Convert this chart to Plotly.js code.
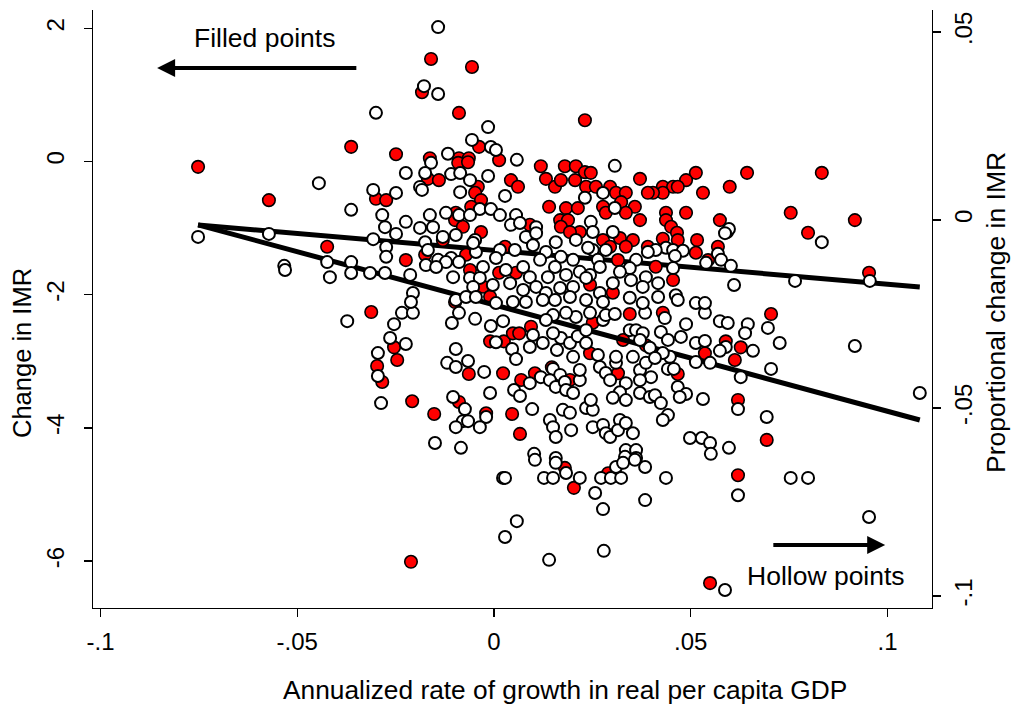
<!DOCTYPE html>
<html>
<head>
<meta charset="utf-8">
<script src="https://cdn.plot.ly/plotly-3.0.1.min.js"></script>
<style>html,body{margin:0;padding:0;background:#fff;}#chart{width:1013px;height:709px;}</style>
</head>
<body>
<div id="chart"></div>
<script>
// Filled points: change in IMR (left axis)
var filledGrowth = [-0.0752,-0.0572,-0.0424,-0.0363,-0.0312,-0.0297,-0.0284,-0.0254,-0.0246,-0.0208,
-0.0152,-0.0089,-0.0064,-0.0020,0.0023,-0.0010,0.0025,0.0048,0.0064,0.0094,
0.0046,0.0066,0.0069,0.0104,0.0147,0.0193,0.0244,0.0251,0.0345,0.0315,
0.0328,0.0386,0.0429,0.0704,0.0589,0.0627,0.0536,0.0612,0.0467,0.0620,
0.0693,0.0180,0.0203,0.0290,-0.0211,0.0620,0.0549,-0.0160,-0.0056,-0.0183,
-0.0089,0.0231,-0.0038,-0.0249,-0.0163,-0.0089,-0.0064,0.0013,0.0513,0.0643,
0.0833,0.0488,0.0429,0.0455,0.0467,0.0429,0.0404,0.0531,0.0599,0.0437,
0.0437,0.0488,0.0574,0.0592,0.0754,0.0917,0.0798,0.0450,0.0465,0.0467,
0.0429,0.0516,0.0513,0.0569,0.0544,0.0953,0.0455,0.0411,-0.0091,-0.0066,
0.0119,0.0180,0.0208,0.0231,0.0246,-0.0168,-0.0140,0.0043,0.0061,-0.0041,
-0.0048,0.0132,0.0155,0.0170,0.0206,0.0234,0.0259,0.0295,0.0310,0.0335,
0.0371,0.0391,-0.0300,-0.0274,-0.0033,-0.0058,0.0140,0.0183,0.0213,0.0277,
0.0284,0.0323,0.0358,0.0335,-0.0097,-0.0099,-0.0079,0.0091,0.0168,0.0188,
0.0371,0.0170,0.0218,0.0193,-0.0033,-0.0130,0.0277,0.0320,0.0353,0.0335,
0.0295,0.0391,-0.0224,-0.0175,-0.0071,0.0028,0.0315,-0.0061,0.0013,0.0056,
0.0244,0.0302,-0.0028,-0.0099,-0.0010];
var filledChange = [-0.08,-0.58,-1.28,0.22,-2.26,-3.07,-3.31,-2.79,-2.98,-3.60,
-3.79,-3.61,-3.19,-3.78,-3.18,-2.70,-2.70,-2.58,-2.58,-2.48,
-3.79,-4.09,-3.28,-3.18,-3.09,-3.28,-2.88,-2.42,-2.29,-3.18,
-2.68,-2.76,-2.27,-2.29,-2.70,-2.79,-2.88,-2.98,-3.19,-3.58,
-4.18,-4.60,-4.90,-4.68,-6.01,-4.71,-6.33,1.54,1.42,1.04,
0.73,0.62,0.22,0.11,0.05,0.05,0.05,0.02,-0.17,-0.17,
-0.17,-0.28,-0.38,-0.38,-0.38,-0.47,-0.47,-0.47,-0.38,-0.77,
-0.88,-0.77,-0.88,-1.06,-0.77,-0.88,-1.07,-0.98,-1.07,-1.18,
-1.16,-1.18,-1.37,-1.28,-1.48,-1.67,-1.78,-1.58,-0.02,-0.01,
-0.07,-0.07,-0.07,-0.16,-0.17,-0.26,-0.28,-0.28,-0.38,-0.38,
-0.47,-0.26,-0.38,-0.28,-0.28,-0.38,-0.38,-0.38,-0.47,-0.47,
-0.26,-0.47,-0.56,-0.58,-0.58,-0.68,-0.68,-0.70,-0.70,-0.68,
-0.77,-0.61,-0.68,-0.77,-0.77,-0.88,-0.98,-0.95,-0.88,-0.88,
-0.88,-0.98,-1.06,-1.06,-1.06,-1.18,-1.18,-1.15,-1.18,-1.28,
-1.28,-1.28,-1.48,-1.40,-1.40,-1.28,-1.48,-1.63,-1.67,-1.67,
-1.85,-1.97,-1.88,-2.11,-2.03];

// Hollow points: proportional change in IMR (right axis)
var hollowGrowth = [-0.0142,-0.0178,-0.0142,-0.0300,-0.0015,-0.0056,-0.0008,0.0005,-0.0117,0.0058,
-0.0445,-0.0363,-0.0307,-0.0752,-0.0572,-0.0307,-0.0533,-0.0531,-0.0424,-0.0363,
-0.0363,-0.0417,-0.0315,-0.0373,-0.0234,-0.0206,-0.0254,-0.0107,-0.0089,-0.0048,
-0.0008,0.0023,-0.0264,-0.0224,-0.0295,-0.0295,-0.0097,-0.0119,-0.0097,-0.0066,
-0.0025,0.0005,0.0099,0.0046,0.0056,0.0091,0.0124,0.0160,0.0170,0.0150,
0.0119,0.0051,0.0066,0.0091,0.0150,0.0168,0.0142,0.0157,0.0180,0.0218,
0.0183,0.0201,0.0218,0.0201,0.0193,0.0213,0.0234,0.0264,0.0234,0.0277,
0.0284,0.0307,0.0384,0.0208,0.0244,0.0183,0.0150,0.0132,0.0269,0.0284,
0.0295,0.0310,0.0345,0.0361,0.0378,0.0371,0.0396,0.0371,0.0335,0.0371,
0.0396,0.0320,0.0302,0.0335,-0.0287,-0.0104,-0.0074,-0.0010,-0.0020,-0.0079,
-0.0066,-0.0097,-0.0036,0.0097,-0.0150,-0.0084,0.0102,0.0157,0.0142,0.0150,
0.0157,0.0196,0.0175,0.0193,0.0234,0.0251,0.0246,0.0251,0.0277,0.0284,
0.0295,0.0320,0.0315,0.0335,0.0353,0.0335,0.0361,0.0361,0.0333,0.0386,
0.0399,0.0371,0.0353,0.0310,0.0434,0.0536,0.0488,0.0574,0.0594,0.0645,
0.0638,0.0696,0.0424,0.0475,0.0442,0.0513,0.0536,0.0589,0.0658,0.0574,
0.0726,0.0513,0.0549,0.0447,0.0429,0.0409,0.0442,0.0457,0.0627,0.0704,
0.0917,0.1082,0.0467,0.0488,0.0472,0.0409,0.0424,0.0531,0.0620,0.0442,
0.0429,0.0693,0.0498,0.0528,0.0549,0.0597,0.0551,0.0104,0.0157,0.0183,
0.0023,0.0028,0.0127,0.0150,0.0218,0.0257,0.0277,0.0272,0.0297,0.0323,
0.0310,0.0328,0.0358,0.0384,0.0384,0.0058,0.0028,0.0140,0.0279,0.0437,
0.0620,0.0754,0.0798,0.0953,0.0587,0.0597,0.0587,0.0833,0.0569,0.0437,
0.0455,0.0480,0.0411,0.0460,0.0577,0.0539,0.0602,0.0955,0.0765,0.0610,
0.0455,0.0417,0.0417,0.0462,0.0467,0.0513,0.0536,-0.0160,0.0307,-0.0224,
-0.0175,-0.0109,-0.0086,-0.0061,-0.0015,-0.0188,-0.0183,-0.0086,0.0277,0.0028,
-0.0249,-0.0036,-0.0008,0.0231,0.0307,-0.0284,-0.0163,-0.0122,-0.0089,-0.0061,
0.0015,0.0056,-0.0224,-0.0277,-0.0188,-0.0155,0.0043,0.0066,0.0107,0.0246,
-0.0249,-0.0130,-0.0097,-0.0048,-0.0175,0.0081,0.0107,0.0251,0.0302,0.0208,
0.0157,0.0284,0.0251,0.0391,-0.0274,-0.0274,-0.0168,-0.0142,-0.0109,-0.0046,
-0.0053,0.0015,0.0053,0.0099,0.0132,0.0170,0.0201,0.0239,0.0264,0.0361,
0.0345,0.0320,-0.0122,-0.0173,-0.0147,-0.0089,-0.0028,0.0005,0.0030,0.0074,
0.0117,0.0155,0.0218,0.0244,0.0269,-0.0277,-0.0213,-0.0104,-0.0061,-0.0036,
0.0091,0.0137,0.0183,0.0234,0.0302,0.0348,0.0386,0.0378,-0.0053,-0.0003,
0.0041,0.0074,0.0107,0.0132,0.0168,0.0201,0.0269,-0.0206,-0.0211,-0.0097,
-0.0071,-0.0046,0.0005,0.0048,0.0081,0.0124,0.0155,0.0193,0.0234,0.0277,
0.0345,0.0378];
var hollowPropChange = [0.0513,0.0356,0.0335,0.0285,0.0247,0.0213,0.0194,0.0186,0.0176,0.0160,
0.0098,0.0027,0.0080,-0.0045,-0.0037,-0.0051,-0.0122,-0.0133,-0.0112,-0.0112,
-0.0141,-0.0152,-0.0141,-0.0269,-0.0247,-0.0247,-0.0277,-0.0274,-0.0247,-0.0263,
-0.0282,-0.0269,-0.0314,-0.0330,-0.0354,-0.0415,-0.0343,-0.0380,-0.0391,-0.0375,
-0.0404,-0.0325,-0.0306,-0.0343,-0.0370,-0.0338,-0.0327,-0.0346,-0.0314,-0.0301,
-0.0418,-0.0452,-0.0468,-0.0434,-0.0396,-0.0412,-0.0426,-0.0444,-0.0431,-0.0426,
-0.0452,-0.0460,-0.0399,-0.0364,-0.0327,-0.0309,-0.0327,-0.0359,-0.0293,-0.0266,
-0.0253,-0.0250,-0.0247,-0.0258,-0.0247,-0.0247,-0.0253,-0.0266,-0.0391,-0.0407,
-0.0426,-0.0380,-0.0293,-0.0293,-0.0301,-0.0319,-0.0340,-0.0399,-0.0434,-0.0460,
-0.0471,-0.0458,-0.0473,-0.0479,-0.0487,-0.0471,-0.0503,-0.0460,-0.0524,-0.0535,
-0.0535,-0.0551,-0.0551,-0.0503,-0.0593,-0.0606,-0.0622,-0.0633,-0.0532,-0.0551,
-0.0577,-0.0559,-0.0505,-0.0513,-0.0500,-0.0505,-0.0479,-0.0551,-0.0545,-0.0567,
-0.0577,-0.0532,-0.0559,-0.0540,-0.0567,-0.0612,-0.0612,-0.0633,-0.0630,-0.0380,
-0.0418,-0.0426,-0.0364,-0.0364,-0.0261,-0.0247,-0.0277,-0.0269,-0.0274,-0.0277,
-0.0301,-0.0287,-0.0298,-0.0311,-0.0319,-0.0327,-0.0322,-0.0338,-0.0348,-0.0348,
-0.0327,-0.0378,-0.0380,-0.0364,-0.0354,-0.0367,-0.0396,-0.0396,-0.0418,-0.0396,
-0.0335,-0.0460,-0.0444,-0.0463,-0.0471,-0.0466,-0.0487,-0.0476,-0.0503,-0.0519,
-0.0532,-0.0524,-0.0580,-0.0580,-0.0593,-0.0606,-0.0622,-0.0638,-0.0646,-0.0673,
-0.0686,-0.0686,-0.0686,-0.0686,-0.0686,-0.0726,-0.0769,-0.0686,-0.0686,-0.0686,
-0.0657,-0.0646,-0.0638,-0.0657,-0.0745,-0.0801,-0.0843,-0.0904,-0.0880,-0.0686,
-0.0732,-0.0686,-0.0686,-0.0790,-0.0984,-0.0024,-0.0035,-0.0059,-0.0090,-0.0074,
-0.0080,-0.0082,-0.0080,-0.0096,-0.0106,-0.0114,-0.0122,-0.0162,-0.0162,-0.0173,
-0.0128,-0.0168,-0.0205,-0.0200,-0.0213,-0.0221,-0.0221,0.0152,0.0144,0.0125,
0.0125,0.0122,0.0125,0.0106,0.0117,0.0088,0.0080,0.0074,0.0072,0.0064,
0.0072,0.0029,0.0029,0.0059,0.0032,0.0013,0.0013,0.0019,0.0013,0.0013,
0.0013,0.0013,-0.0005,-0.0019,-0.0021,-0.0019,-0.0013,-0.0008,-0.0019,-0.0005,
-0.0037,-0.0045,-0.0040,-0.0053,-0.0059,-0.0045,-0.0035,-0.0032,-0.0032,-0.0053,
-0.0059,-0.0080,-0.0080,-0.0085,-0.0072,-0.0098,-0.0080,-0.0106,-0.0101,-0.0085,
-0.0061,-0.0080,-0.0080,-0.0067,-0.0085,-0.0098,-0.0106,-0.0074,-0.0106,-0.0106,
-0.0128,-0.0138,-0.0112,-0.0120,-0.0125,-0.0112,-0.0125,-0.0101,-0.0133,-0.0125,
-0.0106,-0.0125,-0.0138,-0.0146,-0.0125,-0.0141,-0.0146,-0.0152,-0.0154,-0.0154,
-0.0152,-0.0152,-0.0146,-0.0154,-0.0168,-0.0160,-0.0152,-0.0178,-0.0178,-0.0173,
-0.0168,-0.0186,-0.0178,-0.0194,-0.0181,-0.0178,-0.0194,-0.0194,-0.0218,-0.0213,
-0.0205,-0.0205,-0.0221,-0.0218,-0.0218,-0.0213,-0.0213,-0.0205,-0.0213,-0.0218,
-0.0207,-0.0221];

// Fitted lines
var fitFilledX = [-0.0752, 0.1082];
var fitFilledY = [-0.953, -1.884];
var fitHollowX = [-0.0752, 0.1082];
var fitHollowY = [-0.0013, -0.0532];

// Ticks
var xTickVals = [-0.1, -0.05, 0, 0.05, 0.1];
var xTickText = ['-.1', '-.05', '0', '.05', '.1'];
var yTickVals = [-6, -4, -2, 0, 2];
var yTickText = ['-6', '-4', '-2', '0', '2'];
var y2TickVals = [-0.1, -0.05, 0, 0.05];
var y2TickText = ['-.1', '-.05', '0', '.05'];

var FONT = 'Liberation Sans, Arial, sans-serif';

var traces = [
  {x: fitFilledX, y: fitFilledY, type: 'scatter', mode: 'lines', xaxis: 'x', yaxis: 'y',
   line: {color: '#000', width: 5}, hoverinfo: 'skip', showlegend: false},
  {x: filledGrowth, y: filledChange, type: 'scatter', mode: 'markers', xaxis: 'x', yaxis: 'y',
   marker: {size: 12.5, color: '#ff0000', line: {color: '#000', width: 1.6}},
   name: 'Filled points', showlegend: false},
  {x: fitHollowX, y: fitHollowY, type: 'scatter', mode: 'lines', xaxis: 'x', yaxis: 'y2',
   line: {color: '#000', width: 5}, hoverinfo: 'skip', showlegend: false},
  {x: hollowGrowth, y: hollowPropChange, type: 'scatter', mode: 'markers', xaxis: 'x', yaxis: 'y2',
   marker: {size: 12, color: '#ffffff', line: {color: '#000', width: 2}},
   name: 'Hollow points', showlegend: false}
];

var layout = {
  width: 1013, height: 709,
  margin: {l: 93, r: 81, t: 10, b: 101, pad: 0},
  paper_bgcolor: '#fff', plot_bgcolor: '#fff',
  font: {family: FONT, size: 24, color: '#000'},
  showlegend: false,
  xaxis: {
    range: [-0.1019, 0.1113], tickvals: xTickVals, ticktext: xTickText,
    showgrid: false, zeroline: false, showline: true, linecolor: '#000', linewidth: 1.3,
    ticks: 'outside', ticklen: 8, tickwidth: 1.3, tickcolor: '#000',
    ticklabelstandoff: 4, tickfont: {family: FONT, size: 24, color: '#000'},
    title: {text: ''}
  },
  yaxis: {
    range: [-6.704, 2.275], tickvals: yTickVals, ticktext: yTickText, tickangle: -90,
    showgrid: false, zeroline: false, showline: true, linecolor: '#000', linewidth: 1.3,
    ticks: 'outside', ticklen: 8, tickwidth: 1.3, tickcolor: '#000',
    ticklabelstandoff: 10, tickfont: {family: FONT, size: 24, color: '#000'},
    title: {text: ''}
  },
  yaxis2: {
    overlaying: 'y', side: 'right', anchor: 'x',
    range: [-0.1032, 0.05585], tickvals: y2TickVals, ticktext: y2TickText, tickangle: -90,
    showgrid: false, zeroline: false, showline: true, linecolor: '#000', linewidth: 1.3,
    ticks: 'outside', ticklen: 8, tickwidth: 1.3, tickcolor: '#000',
    ticklabelstandoff: 2, tickfont: {family: FONT, size: 24, color: '#000'},
    title: {text: ''}
  },
  annotations: [
    {xref: 'paper', yref: 'paper', x: (565 - 93) / 839, y: (608 - 690) / 598, xanchor: 'center', yanchor: 'middle',
     text: 'Annualized rate of growth in real per capita GDP', showarrow: false, font: {family: FONT, size: 26.3, color: '#000'}},
    {xref: 'paper', yref: 'paper', x: (22 - 93) / 839, y: (608 - 353) / 598, xanchor: 'center', yanchor: 'middle',
     text: 'Change in IMR', textangle: -90, showarrow: false, font: {family: FONT, size: 25.5, color: '#000'}},
    {xref: 'paper', yref: 'paper', x: (996 - 93) / 839, y: (608 - 313) / 598, xanchor: 'center', yanchor: 'middle',
     text: 'Proportional change in IMR', textangle: -90, showarrow: false, font: {family: FONT, size: 26.5, color: '#000'}},
    {xref: 'x', yref: 'y', x: -0.0584, y: 1.854, text: 'Filled points', showarrow: false,
     xanchor: 'center', yanchor: 'middle', font: {family: FONT, size: 26.5, color: '#000'}},
    {xref: 'x', yref: 'y', x: -0.0856, y: 1.404, axref: 'x', ayref: 'y', ax: -0.0346, ay: 1.404,
     text: '', showarrow: true, arrowhead: 2, arrowsize: 0.9, arrowwidth: 4, arrowcolor: '#000'},
    {xref: 'x', yref: 'y', x: 0.0844, y: -6.224, text: 'Hollow points', showarrow: false,
     xanchor: 'center', yanchor: 'middle', font: {family: FONT, size: 26.5, color: '#000'}},
    {xref: 'x', yref: 'y', x: 0.0994, y: -5.758, axref: 'x', ayref: 'y', ax: 0.0706, ay: -5.758,
     text: '', showarrow: true, arrowhead: 2, arrowsize: 0.9, arrowwidth: 4, arrowcolor: '#000'}
  ]
};

Plotly.newPlot('chart', traces, layout, {displayModeBar: false, staticPlot: true});
</script>
</body>
</html>
